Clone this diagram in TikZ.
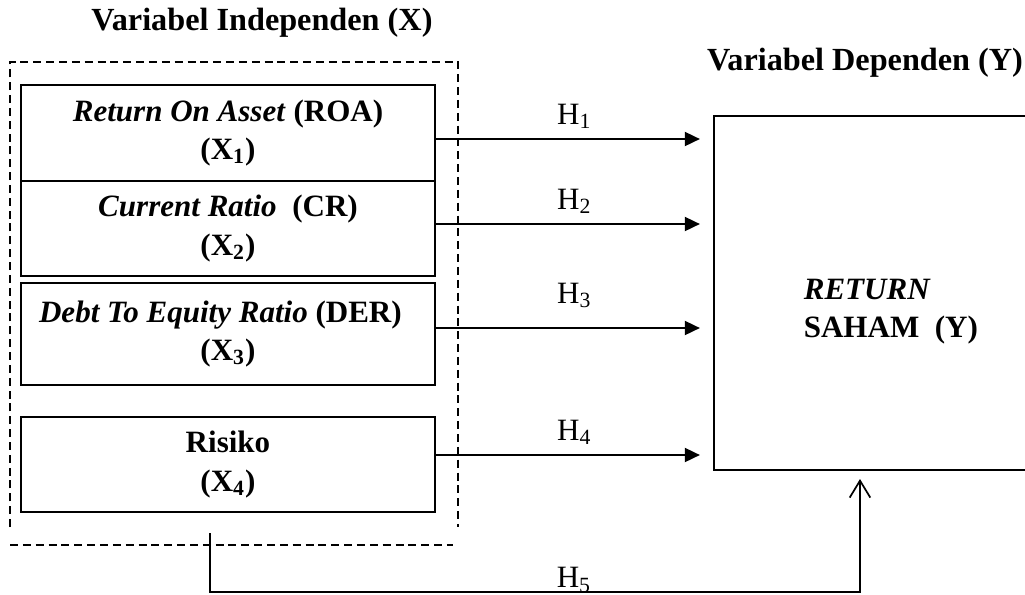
\documentclass[tikz,border=0pt]{standalone}
\usepackage{fontspec}
\setmainfont{Liberation Serif}
\usetikzlibrary{arrows.meta}

\begin{document}
\begin{tikzpicture}[x=0.0145cm,y=0.0145cm]
\fontsize{12.8}{15.7}\selectfont
\tikzstyle{varbox}=[draw, line width=0.75pt, minimum width=6cm, inner sep=0pt, align=center, font=\bfseries]
\tikzstyle{hyp}=[line width=0.7pt, -{Triangle[length=6.2pt,width=5.8pt]}, shorten >=0.19cm]
\tikzstyle{barb}=[line width=0.7pt, -{Straight Barb[length=7pt,width=8.5pt]}, shorten >=0.12cm]
\tikzstyle{frame}=[line width=0.6pt, dash pattern=on 3.3pt off 2pt]
\tikzstyle{title}=[font=\fontsize{13.3}{16}\selectfont\bfseries]
\useasboundingbox (0,0) rectangle (1025,-594);
% titles
\node [title] (tx) at (262,-23) {Variabel Independen (X)};
\node [title] (ty) at (865,-63) {Variabel Dependen (Y)};
% dashed frame round X
\draw [frame] (10,-527) -- (10,-62) -- (458,-62) -- (458,-527);
\draw [frame] (10,-545) -- (453,-545);
% independent variables
\node [varbox, minimum height=1.392cm] (b1) at (228,-133) {\textit{Return On Asset} (ROA)\\(X\textsubscript{1})};
\node [varbox, minimum height=1.378cm] (b2) at (228,-228.5) {\textit{Current Ratio}\ \ (CR)\\(X\textsubscript{2})};
\node [varbox, minimum height=1.479cm] (b3) at (228,-334) {\hspace*{-0.22cm}\textit{Debt To Equity Ratio} (DER)\\(X\textsubscript{3})};
\node [varbox, minimum height=1.378cm] (b4) at (228,-464.5) {Risiko\\(X\textsubscript{4})};
% dependent variable
\node [draw, line width=0.75pt, minimum width=4.81cm, minimum height=5.13cm, inner sep=0pt, anchor=north west] (y) at (713,-115) {};
\node [font=\bfseries, align=left, anchor=west] (ytxt) at (793,-312) {\textit{RETURN}\\SAHAM\ \ (Y)};
% hypotheses
\draw [hyp] (b1.east |- 0,-139) -- node [above=3pt, inner sep=1pt] (h1) {H\textsubscript{1}} (y.west |- 0,-139);
\draw [hyp] (b2.east |- 0,-224) -- node [above=3pt, inner sep=1pt] (h2) {H\textsubscript{2}} (y.west |- 0,-224);
\draw [hyp] (b3.east |- 0,-328) -- node [above=7pt, inner sep=1pt] (h3) {H\textsubscript{3}} (y.west |- 0,-328);
\draw [hyp] (b4.east |- 0,-455) -- node [above=3pt, inner sep=1pt] (h4) {H\textsubscript{4}} (y.west |- 0,-455);
\coordinate (h5a) at (210,-533);
\coordinate (h5b) at (860,-592);
\draw [barb] (h5a) |- node [pos=0.78, anchor=base, yshift=1.8pt, inner sep=1pt] (h5) {H\textsubscript{5}} (h5b) -- (h5b |- y.south);
\end{tikzpicture}
\end{document}
